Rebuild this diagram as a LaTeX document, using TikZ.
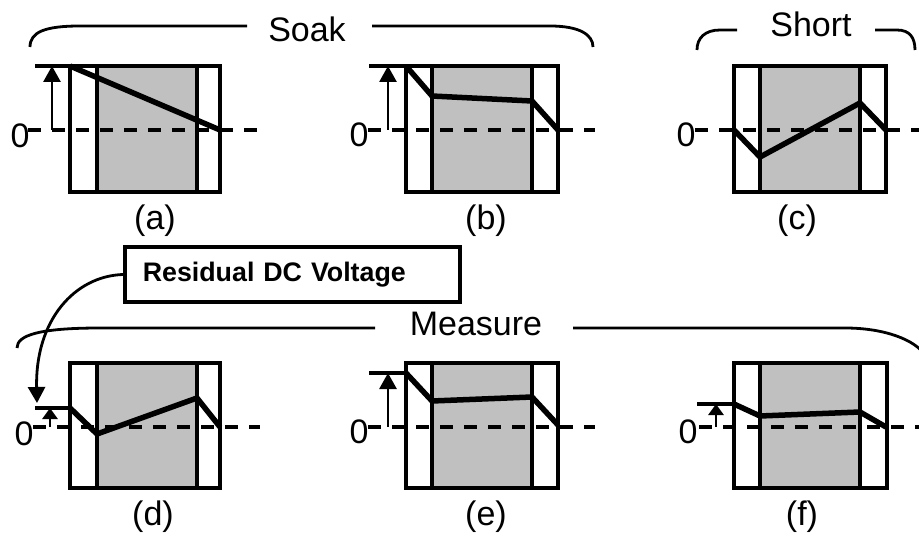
\documentclass[tikz,border=0pt]{standalone}
\usepackage{fontspec}
\setmainfont{Liberation Sans}
\usetikzlibrary{arrows.meta}
\definecolor{stripgray}{RGB}{192,192,192}
\tikzset{
  cellbox/.style={draw=black, line width=3.5pt},
  strip/.style={draw=black, fill=stripgray, line width=3.5pt},
  signal/.style={line width=5.5pt, line join=miter},
  zeroline/.style={line width=4pt, dash pattern=on 13pt off 11pt},
  levelarrow/.style={-{Triangle[width=17pt,length=16pt]}, line width=2.8pt},
  smallarrow/.style={-{Triangle[width=15pt,length=11pt]}, line width=2.8pt},
  leveltick/.style={line width=3.5pt},
  phase/.style={line width=2.8pt},
  caption/.style={font=\fontsize{34}{40}\selectfont, inner sep=0pt, anchor=base},
  callout/.style={draw=black, line width=3.5pt, fill=white, anchor=west, inner xsep=18pt,
    text width=299pt, align=left, minimum height=55pt, font=\fontsize{26.8}{30}\selectfont\bfseries}
}

\begin{document}
\begin{tikzpicture}[x=1pt, y=-1pt]
\useasboundingbox (0,0) rectangle (919,540);
\fill[white] (0,0) rectangle (919,540);

% Soak phase
\draw[phase] (30,47) .. controls (30,32) and (45,26) .. (80,26) -- (247,26);
\draw[phase] (372,26) -- (550,26) .. controls (580,26) and (593,35) .. (593,47);
\node[caption] (soak) at (307,42) {Soak};

% Short phase
\draw[phase] (697,50) .. controls (697,38) and (705,30) .. (720,30) -- (737,30);
\draw[phase] (875,30) -- (897,30) .. controls (910,30) and (915,38) .. (915,50);
\node[caption] (short) at (811,37) {Short};

% Measure phase
\draw[phase] (17,348) .. controls (17,335) and (40,328) .. (100,328) -- (375,328);
\draw[phase] (573,328) -- (845,328) .. controls (885,328) and (915,340) .. (925,355);
\node[caption] (measure) at (476,335) {Measure};

% (a)
\fill[white] (70,66) rectangle (220,192);
\draw[strip] (97,66) rectangle (197,192);
\draw[zeroline] (28,130) -- (260,130);
\draw[cellbox] (70,66) rectangle (220,192);
\draw[signal] (70,66) -- (220,130);
\draw[leveltick] (35,66) -- (70,66);
\draw[levelarrow] (52,130) -- (52,66);
\node[caption] (zeroa) at (20,148) {0};
\node[caption] (capa) at (155,230) {(a)};

% (b)
\fill[white] (406,66) rectangle (558,192);
\draw[strip] (432,66) rectangle (532,192);
\draw[zeroline] (368,130) -- (595,130);
\draw[cellbox] (406,66) rectangle (558,192);
\draw[signal] (406,66) -- (432,96) -- (532,101) -- (558,130);
\draw[leveltick] (369,66) -- (406,66);
\draw[levelarrow] (388,130) -- (388,66);
\node[caption] (zerob) at (359,147) {0};
\node[caption] (capb) at (486,230) {(b)};

% (c)
\fill[white] (734,66) rectangle (886,192);
\draw[strip] (760,66) rectangle (860,192);
\draw[zeroline] (695,130) -- (919,130);
\draw[cellbox] (734,66) rectangle (886,192);
\draw[signal] (734,130) -- (760,157) -- (860,103) -- (886,130);
\node[caption] (zeroc) at (686,147) {0};
\node[caption] (capc) at (797,230) {(c)};

% (d)
\fill[white] (70,363) rectangle (220,488);
\draw[strip] (97,363) rectangle (197,488);
\draw[zeroline] (33,427) -- (260,427);
\draw[cellbox] (70,363) rectangle (220,488);
\draw[signal] (70,408) -- (97,434) -- (197,398) -- (220,427);
\draw[leveltick] (35,408) -- (70,408);
\draw[smallarrow] (50,427) -- (50,408);
\node[caption] (zerod) at (24,445) {0};
\node[caption] (capd) at (153,525) {(d)};

% (e)
\fill[white] (406,363) rectangle (558,488);
\draw[strip] (432,363) rectangle (532,488);
\draw[zeroline] (368,427) -- (595,427);
\draw[cellbox] (406,363) rectangle (558,488);
\draw[signal] (406,373) -- (432,401) -- (532,397) -- (558,425);
\draw[leveltick] (369,373) -- (406,373);
\draw[levelarrow] (388,427) -- (388,373);
\node[caption] (zeroe) at (359,443) {0};
\node[caption] (cape) at (486,525) {(e)};

% (f)
\fill[white] (734,363) rectangle (887,488);
\draw[strip] (760,363) rectangle (860,488);
\draw[zeroline] (699,427) -- (919,427);
\draw[cellbox] (734,363) rectangle (887,488);
\draw[signal] (734,404) -- (760,416) -- (860,412) -- (886,427);
\draw[leveltick] (697,404) -- (734,404);
\draw[smallarrow] (716,427) -- (716,404);
\node[caption] (zerof) at (688,443) {0};
\node[caption] (capf) at (802,525) {(f)};

% residual callout
\node[callout] (resid) at (123,274.5) {Residual DC Voltage};
\coordinate (dtip) at (37,403);
\draw[levelarrow] (resid.west) .. controls (75,276) and (35,320) .. (dtip);

\end{tikzpicture}
\end{document}
